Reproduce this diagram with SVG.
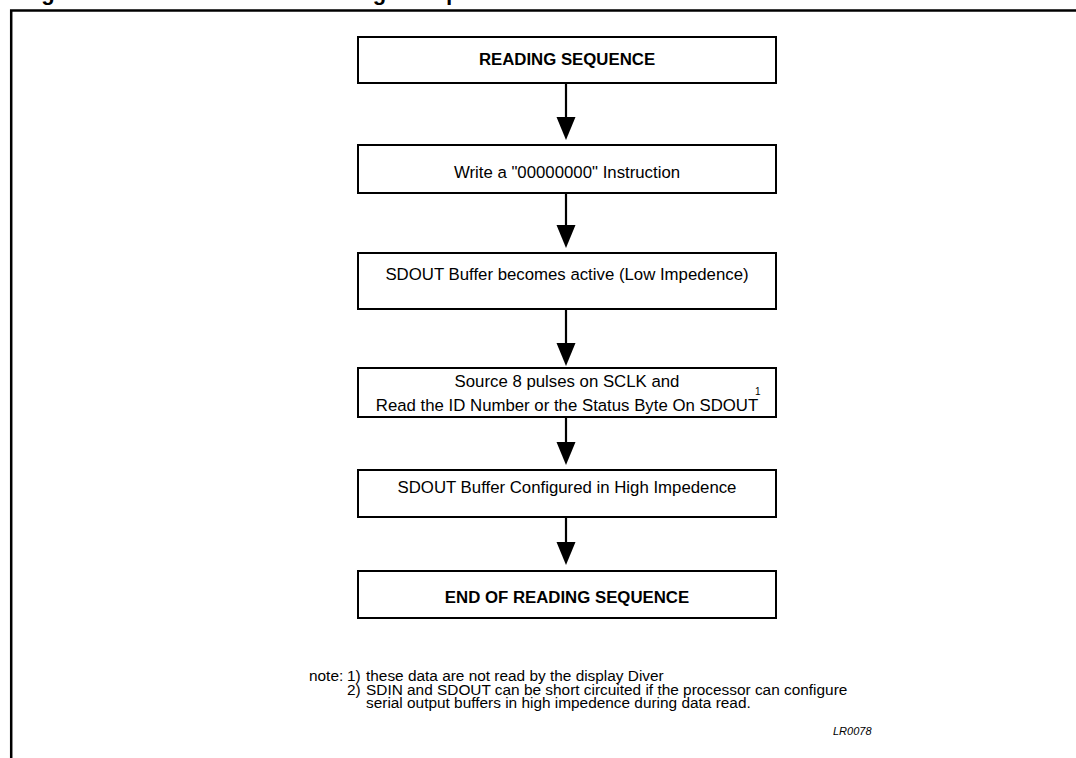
<svg xmlns="http://www.w3.org/2000/svg" width="1076" height="758" viewBox="0 0 1076 758">
<style>
.box{fill:#fff;stroke:#000;stroke-width:2}
.t{font-family:"Liberation Sans",Arial,sans-serif;font-size:16.8px;fill:#000;text-anchor:middle}
.b{font-weight:bold}
.n{font-family:"Liberation Sans",Arial,sans-serif;font-size:15.4px;fill:#000}
.ln{stroke:#000;stroke-width:2.2;fill:none}
.hd{fill:#000}
</style>
<rect width="1076" height="758" fill="#fff"/>
<text x="12" y="-0.5" font-family="Liberation Sans,Arial,sans-serif" font-weight="bold" font-size="22" textLength="528" lengthAdjust="spacing">Figure 8. SDOUT Reading Sequence</text>
<path d="M11.2 758 V10.5 H1076" fill="none" stroke="#000" stroke-width="2.5"/>
<g id="connectors">
<line class="ln" x1="566" y1="83" x2="566" y2="120"/><polygon class="hd" points="556.5,117 575.5,117 566,140"/>
<line class="ln" x1="566" y1="193" x2="566" y2="228"/><polygon class="hd" points="556.5,225 575.5,225 566,248"/>
<line class="ln" x1="566" y1="309" x2="566" y2="346"/><polygon class="hd" points="556.5,343 575.5,343 566,366"/>
<line class="ln" x1="566" y1="417" x2="566" y2="445"/><polygon class="hd" points="556.5,442 575.5,442 566,465"/>
<line class="ln" x1="566" y1="517" x2="566" y2="545"/><polygon class="hd" points="556.5,542 575.5,542 566,565"/>
</g>
<g id="n1"><rect class="box" x="358" y="37" width="418" height="46"/><text class="t b" x="567" y="65">READING SEQUENCE</text></g>
<g id="n2"><rect class="box" x="358" y="145" width="418" height="48"/><text class="t" x="567" y="178">Write a "00000000" Instruction</text></g>
<g id="n3"><rect class="box" x="358" y="253" width="418" height="56"/><text class="t" x="567" y="280">SDOUT Buffer becomes active (Low Impedence)</text></g>
<g id="n4"><rect class="box" x="358" y="368" width="418" height="49"/><text class="t" x="567" y="387">Source 8 pulses on SCLK and</text><text class="t" x="567" y="411">Read the ID Number or the Status Byte On SDOUT</text><text x="755" y="395" font-family="Liberation Sans,Arial,sans-serif" font-size="10">1</text></g>
<g id="n5"><rect class="box" x="358" y="470" width="418" height="47"/><text class="t" x="567" y="493">SDOUT Buffer Configured in High Impedence</text></g>
<g id="n6"><rect class="box" x="358" y="571" width="418" height="47"/><text class="t b" x="567" y="603">END OF READING SEQUENCE</text></g>
<g id="notes">
<text class="n" x="309" y="681">note:</text>
<text class="n" x="347" y="681">1)</text>
<text class="n" x="366" y="681">these data are not read by the display Diver</text>
<text class="n" x="347" y="695">2)</text>
<text class="n" x="366" y="695">SDIN and SDOUT can be short circuited if the processor can configure</text>
<text class="n" x="366" y="708">serial output buffers in high impedence during data read.</text>
<text x="833" y="735" font-family="Liberation Sans,Arial,sans-serif" font-size="11" font-style="italic">LR0078</text>
</g>
</svg>
